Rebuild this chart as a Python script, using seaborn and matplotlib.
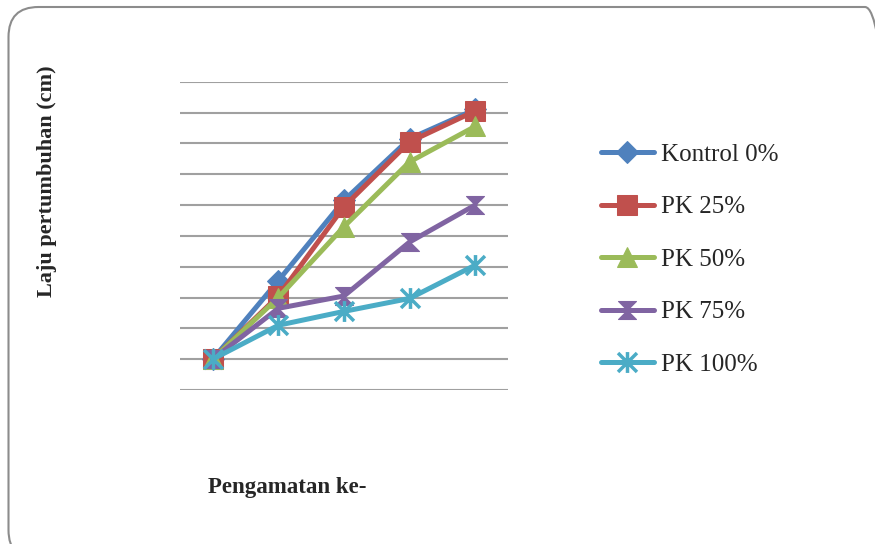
import numpy as np
import pandas as pd
import matplotlib
matplotlib.use("Agg")
import matplotlib.pyplot as plt
import seaborn as sns
from matplotlib.path import Path
from matplotlib.patches import FancyBboxPatch

# observation number (no tick labels shown in the original)
pengamatan = [1, 2, 3, 4, 5]

kontrol_0 = [1.0, 3.55, 6.15, 8.15, 9.1]
pk_25 = [1.0, 3.05, 5.95, 8.05, 9.05]
pk_50 = [1.0, 3.0, 5.3, 7.4, 8.55]
pk_75 = [1.0, 2.65, 3.05, 4.8, 6.0]
pk_100 = [1.0, 2.1, 2.55, 2.97, 4.05]

labels = ["Kontrol 0%", "PK 25%", "PK 50%", "PK 75%", "PK 100%"]
colors = ["#4F81BD", "#C0504D", "#9BBB59", "#8064A2", "#4BACC6"]

hourglass = Path([(-1, 1), (1, 1), (-1, -1), (1, -1), (-1, 1)],
                 [Path.MOVETO, Path.LINETO, Path.LINETO, Path.LINETO, Path.CLOSEPOLY])
star = Path([(-1, -1), (1, 1), (-1, 1), (1, -1), (0, -1.1), (0, 1.1)],
            [Path.MOVETO, Path.LINETO, Path.MOVETO, Path.LINETO, Path.MOVETO, Path.LINETO])
markers = ["D", "s", "^", hourglass, star]
msizes = [11, 14, 14, 13, 15]

sns.set_style("white")
plt.rcParams["font.family"] = ["Liberation Serif", "DejaVu Serif"]

fig = plt.figure(figsize=(8.75, 5.44), dpi=100)
ax = fig.add_axes([180 / 875, 1 - 390 / 544, 328 / 875, 308.3 / 544])

series = [kontrol_0, pk_25, pk_50, pk_75, pk_100]
for vals, lab, col, mk, ms in zip(series, labels, colors, markers, msizes):
    df = pd.DataFrame({"Pengamatan": pengamatan, "Laju": vals})
    kw = dict(marker=mk, markersize=ms, markerfacecolor=col, markeredgecolor=col)
    if mk is star:
        kw["markeredgewidth"] = 2.5
    sns.lineplot(data=df, x="Pengamatan", y="Laju", color=col, linewidth=3.6,
                 label=lab, ax=ax, **kw)

ax.set_xlim(0.5, 5.5)
ax.set_ylim(0, 10)
ax.set_yticks(np.arange(0, 11, 1))
ax.set_xticks([])
ax.yaxis.grid(True, color="#a0a0a0", linewidth=1.5)
ax.tick_params(left=False, labelleft=False, bottom=False, labelbottom=False)
for s in ax.spines.values():
    s.set_visible(False)
ax.set_xlabel("")
ax.set_ylabel("")

fig.text(47 / 875, 1 - 181 / 544, "Laju pertumbuhan (cm)", rotation=90,
         ha="center", va="center", fontsize=16, fontweight="bold")
fig.text(208 / 875, 1 - 487 / 544, "Pengamatan ke-", ha="left", va="center",
         fontsize=16.5, fontweight="bold")

ax.legend(loc="center left", bbox_to_anchor=(601 / 875, 1 - 259.5 / 544),
          bbox_transform=fig.transFigure, frameon=False, fontsize=18,
          handlelength=2.1, handletextpad=0.3, labelspacing=1.2, borderpad=0,
          borderaxespad=0)

border = FancyBboxPatch((0.085, -0.16), 8.865, 5.53,
                        boxstyle="round,pad=0,rounding_size=0.3",
                        transform=fig.dpi_scale_trans, facecolor="none",
                        edgecolor="#8c8c8c", linewidth=1.5, clip_on=False)
fig.patches.append(border)

fig.savefig("out.png", dpi=100)
